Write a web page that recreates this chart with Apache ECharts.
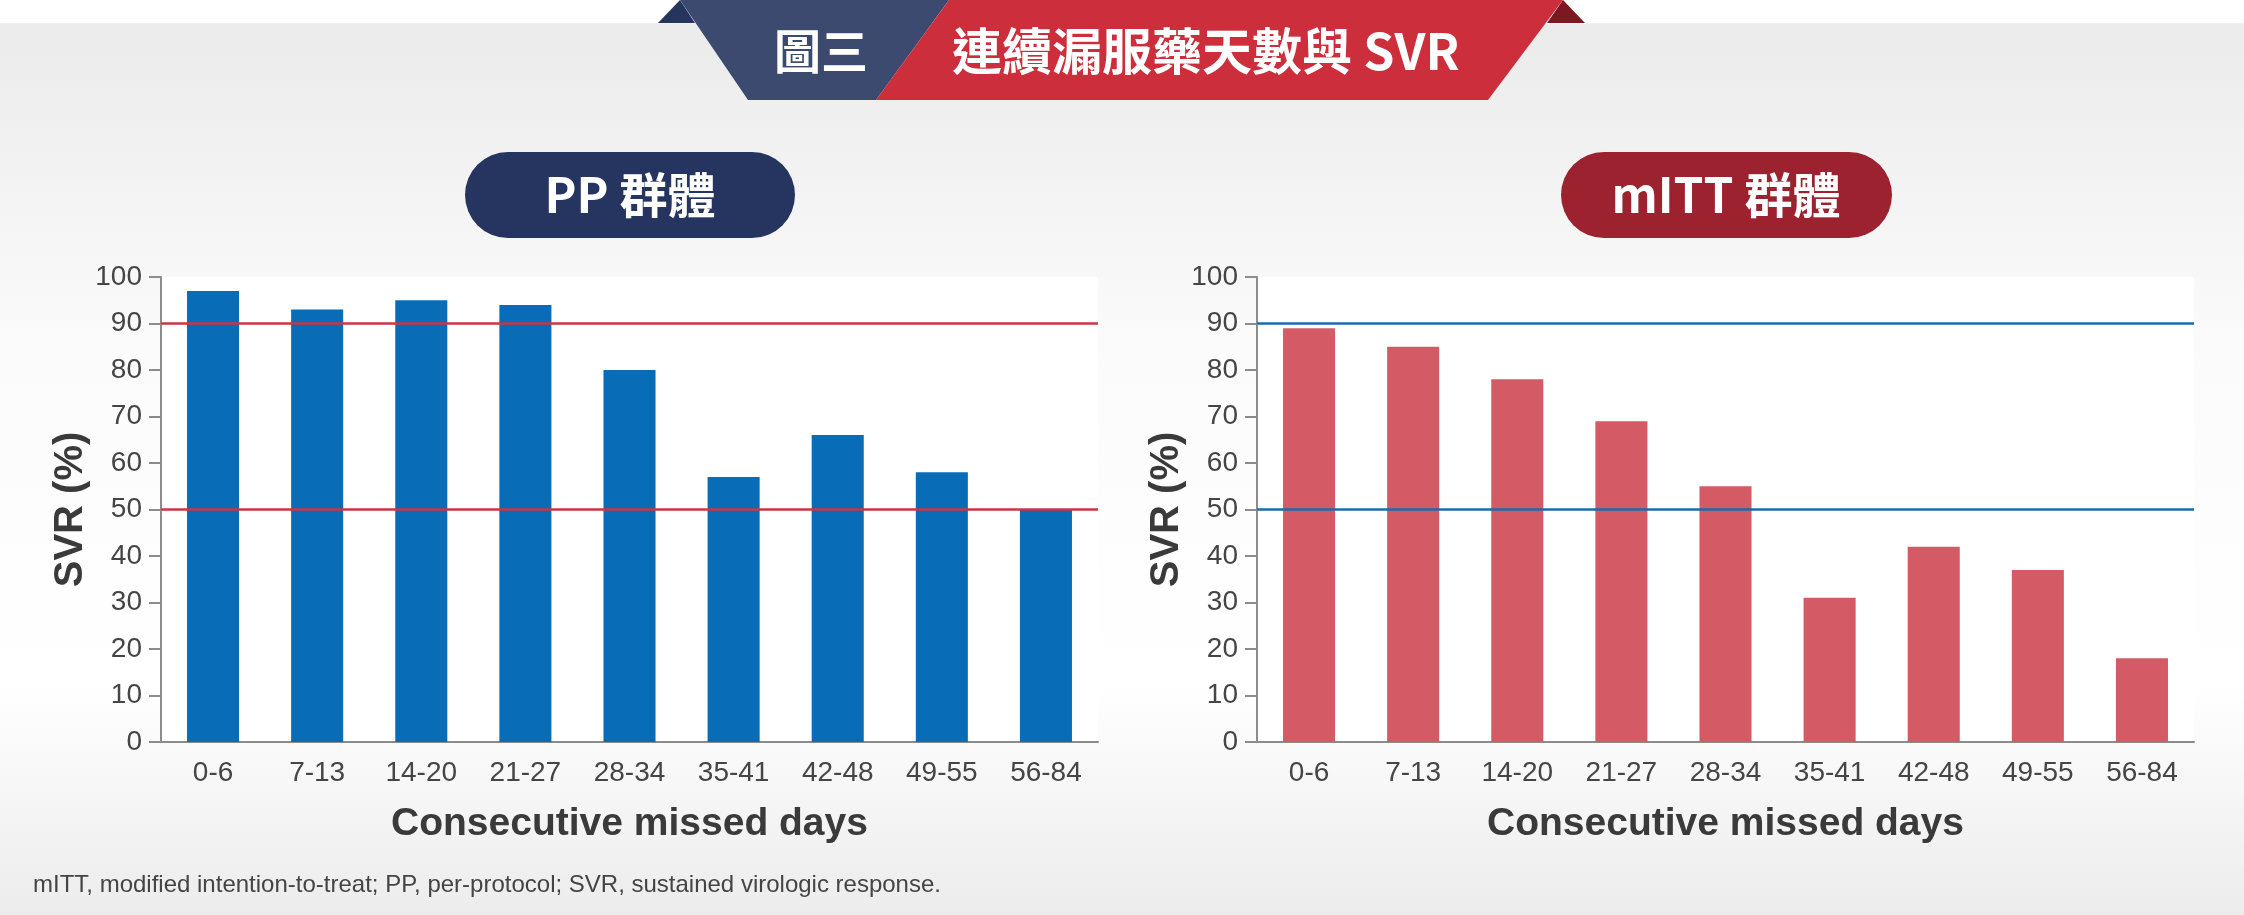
<!DOCTYPE html>
<html>
<head>
<meta charset="utf-8">
<script src="https://cdn.jsdelivr.net/npm/echarts@6/dist/echarts.min.js"></script>
<style>
  html, body { margin: 0; padding: 0; }
  #chart { width: 2244px; height: 915px; }
</style>
</head>
<body>
<div id="chart"></div>
<script>
// 資料
var categories = ['0-6', '7-13', '14-20', '21-27', '28-34', '35-41', '42-48', '49-55', '56-84'];
var ppValues = [97, 93, 95, 94, 80, 57, 66, 58, 50];
var mittValues = [89, 85, 78, 69, 55, 31, 42, 37, 18];
var refLines = [90, 50];

var myChart = echarts.init(document.getElementById('chart'));

var latin = '"Liberation Sans", Arial, sans-serif';
var cjk = '"Noto Sans CJK TC", "Liberation Sans", sans-serif';

function xAxisOf(idx) {
    return {
        type: 'category',
        gridIndex: idx,
        data: categories,
        axisLine: { lineStyle: { color: '#8c8c8c', width: 2 } },
        axisTick: { length: 13, lineStyle: { color: '#8c8c8c', width: 2 } },
        axisLabel: { color: '#454545', fontSize: 28, fontFamily: latin, margin: 17 },
        name: 'Consecutive missed days',
        nameLocation: 'middle',
        nameGap: 63,
        nameTextStyle: { color: '#3a3a3a', fontSize: 39, fontWeight: 'bold', fontFamily: latin }
    };
}

function yAxisOf(idx) {
    return {
        type: 'value',
        gridIndex: idx,
        min: 0, max: 100, interval: 10,
        axisLine: { show: true, lineStyle: { color: '#8c8c8c', width: 2 } },
        axisTick: { show: true, length: 12, lineStyle: { color: '#8c8c8c', width: 2 } },
        axisLabel: { color: '#454545', fontSize: 28, fontFamily: latin, margin: 19 },
        splitLine: { show: false },
        name: 'SVR (%)',
        nameLocation: 'middle',
        nameRotate: 90,
        nameGap: 69,
        nameTextStyle: { color: '#3a3a3a', fontSize: 40, fontWeight: 'bold', fontFamily: latin }
    };
}

function barsOf(idx, values, barColor, lineColor) {
    return {
        type: 'bar',
        xAxisIndex: idx,
        yAxisIndex: idx,
        data: values,
        barWidth: '50%',
        itemStyle: { color: barColor },
        markLine: {
            silent: true,
            symbol: 'none',
            label: { show: false },
            lineStyle: { color: lineColor, width: 2.5, type: 'solid' },
            data: refLines.map(function (v) { return { yAxis: v }; })
        }
    };
}

var option = {
    animation: false,
    grid: [
        { left: 161, top: 277, width: 937, height: 465, show: true, backgroundColor: '#ffffff', borderWidth: 0 },
        { left: 1257, top: 277, width: 937, height: 465, show: true, backgroundColor: '#ffffff', borderWidth: 0 }
    ],
    xAxis: [xAxisOf(0), xAxisOf(1)],
    yAxis: [yAxisOf(0), yAxisOf(1)],
    series: [
        barsOf(0, ppValues, '#086cb7', '#cc3545'),
        barsOf(1, mittValues, '#d45a65', '#1d6aab')
    ],
    graphic: [
        // 背景漸層
        {
            type: 'rect', z: -100, silent: true,
            shape: { x: 0, y: 0, width: 2244, height: 915 },
            style: {
                fill: new echarts.graphic.LinearGradient(0, 0, 0, 1, [
                    { offset: 0, color: '#ffffff' },
                    { offset: 0.025, color: '#ffffff' },
                    { offset: 0.026, color: '#ebebeb' },
                    { offset: 0.38, color: '#fbfbfb' },
                    { offset: 0.75, color: '#ffffff' },
                    { offset: 1, color: '#ececec' }
                ])
            }
        },
        // 標題橫幅
        { type: 'polygon', z: 10, shape: { points: [[658, 23], [680, 0], [695, 23]] }, style: { fill: '#26355d' } },
        { type: 'polygon', z: 10, shape: { points: [[1547, 23], [1563, 0], [1585, 23]] }, style: { fill: '#7c1820' } },
        { type: 'polygon', z: 10, shape: { points: [[680, 0], [949, 0], [876, 100], [748, 100]] }, style: { fill: '#3b4a6e' } },
        { type: 'polygon', z: 10, shape: { points: [[949, 0], [1563, 0], [1488, 100], [876, 100]] }, style: { fill: '#cc2e3c' } },
        {
            type: 'text', z: 11, x: 821, y: 51,
            style: { text: '圖三', fill: '#fff', font: 'bold 47px ' + cjk, align: 'center', verticalAlign: 'middle' }
        },
        {
            type: 'text', z: 11, x: 952, y: 51,
            style: { text: '連續漏服藥天數與 SVR', fill: '#fff', font: 'bold 50px ' + cjk, align: 'left', verticalAlign: 'middle' }
        },
        // 群體標籤
        { type: 'rect', z: 10, shape: { x: 465, y: 152, width: 330, height: 86, r: 43 }, style: { fill: '#253560' } },
        {
            type: 'text', z: 11, x: 630, y: 195,
            style: { text: 'PP 群體', fill: '#fff', font: 'bold 48px ' + cjk, align: 'center', verticalAlign: 'middle' }
        },
        { type: 'rect', z: 10, shape: { x: 1561, y: 152, width: 331, height: 86, r: 43 }, style: { fill: '#9c2230' } },
        {
            type: 'text', z: 11, x: 1726, y: 195,
            style: { text: 'mITT 群體', fill: '#fff', font: 'bold 48px ' + cjk, align: 'center', verticalAlign: 'middle' }
        },
        // 註腳
        {
            type: 'text', z: 11, x: 33, y: 885,
            style: {
                text: 'mITT, modified intention-to-treat; PP, per-protocol; SVR, sustained virologic response.',
                fill: '#444', font: '24px ' + latin, align: 'left', verticalAlign: 'middle'
            }
        }
    ]
};

myChart.setOption(option);
</script>
</body>
</html>
